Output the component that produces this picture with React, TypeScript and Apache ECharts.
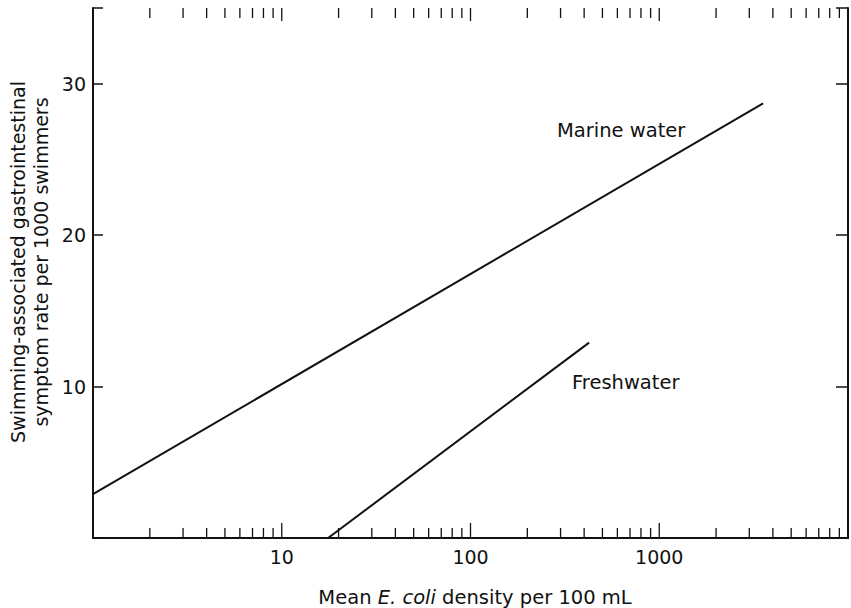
import React, { useEffect, useRef } from "react";
import * as echarts from "echarts";

// Data
const marineX = [1, 3550];
const marineY = [2.9, 28.7];
const freshX = [17.6, 425];
const freshY = [0, 12.9];
const majorTicks = [10, 100, 1000];
const minorTicks = [
  2, 3, 4, 5, 6, 7, 8, 9,
  20, 30, 40, 50, 60, 70, 80, 90,
  200, 300, 400, 500, 600, 700, 800, 900,
  2000, 3000, 4000, 5000, 6000, 7000, 8000, 9000,
];
const xLabels = [10, 100, 1000];
const yLabels = [10, 20, 30];

const FONT = "DejaVu Sans";

export default function App() {
  const ref = useRef<HTMLDivElement>(null);
  useEffect(() => {
    if (!ref.current) return;
    const chart = echarts.init(ref.current, null, { renderer: "svg" });
    const tickData = [
      ...majorTicks.map((v) => [v, 0, 1]),
      ...minorTicks.map((v) => [v, 0, 0]),
    ];
    chart.setOption({
      animation: false,
      backgroundColor: "#ffffff",
      grid: { left: 93, right: 1, top: 8, bottom: 70 },
      xAxis: [
        {
          type: "log",
          logBase: 10,
          min: 1,
          max: 10000,
          position: "bottom",
          axisLine: { lineStyle: { color: "#111", width: 2 } },
          axisTick: { show: false },
          splitLine: { show: false },
          axisLabel: {
            color: "#111",
            fontFamily: FONT,
            fontSize: 19,
            margin: 9,
            formatter: (v: number) => (xLabels.includes(Math.round(v)) ? String(Math.round(v)) : ""),
          },
        },
        {
          type: "log",
          logBase: 10,
          min: 1,
          max: 10000,
          position: "top",
          axisLine: { lineStyle: { color: "#111", width: 2 } },
          axisTick: { show: false },
          splitLine: { show: false },
          axisLabel: { show: false },
        },
      ],
      yAxis: [
        {
          type: "value",
          min: 0,
          max: 35,
          interval: 10,
          position: "left",
          axisLine: { show: true, lineStyle: { color: "#111", width: 2 } },
          axisTick: { show: true, inside: true, length: 10, lineStyle: { color: "#111", width: 1.5 } },
          splitLine: { show: false },
          axisLabel: {
            color: "#111",
            fontFamily: FONT,
            fontSize: 19,
            margin: 7,
            formatter: (v: number) => (yLabels.includes(v) ? String(v) : ""),
          },
        },
        {
          type: "value",
          min: 0,
          max: 35,
          interval: 10,
          position: "right",
          axisLine: { show: true, lineStyle: { color: "#111", width: 2 } },
          axisTick: { show: true, inside: true, length: 12, lineStyle: { color: "#111", width: 1.5 } },
          splitLine: { show: false },
          axisLabel: { show: false },
        },
      ],
      series: [
        {
          name: "Marine water",
          type: "line",
          data: marineX.map((x, i) => [x, marineY[i]]),
          showSymbol: false,
          lineStyle: { color: "#111", width: 2 },
        },
        {
          name: "Freshwater",
          type: "line",
          data: freshX.map((x, i) => [x, freshY[i]]),
          showSymbol: false,
          lineStyle: { color: "#111", width: 2 },
        },
        {
          type: "custom",
          clip: false,
          silent: true,
          data: tickData,
          encode: { x: 0, y: 1 },
          renderItem: (params: any, api: any) => {
            const v = api.value(0);
            const major = api.value(2) === 1;
            const bottom = api.coord([v, 0]);
            const top = api.coord([v, 35]);
            const lb = major ? 15 : 10;
            const lt = major ? 13 : 10;
            const style = { stroke: "#111", lineWidth: 1.3 };
            return {
              type: "group",
              children: [
                { type: "line", shape: { x1: bottom[0], y1: bottom[1], x2: bottom[0], y2: bottom[1] - lb }, style },
                { type: "line", shape: { x1: top[0], y1: top[1], x2: top[0], y2: top[1] + lt }, style },
              ],
            };
          },
        },
      ],
      graphic: [
        {
          type: "text",
          x: 557,
          y: 130,
          style: { text: "Marine water", fontFamily: FONT, fontSize: 19.5, fill: "#111", textVerticalAlign: "middle" },
        },
        {
          type: "text",
          x: 572,
          y: 382,
          style: { text: "Freshwater", fontFamily: FONT, fontSize: 19.5, fill: "#111", textVerticalAlign: "middle" },
        },
        {
          type: "text",
          x: 475,
          y: 597,
          style: {
            text: "{n|Mean }{i|E. coli}{n| density per 100 mL}",
            textAlign: "center",
            textVerticalAlign: "middle",
            rich: {
              n: { fontFamily: FONT, fontSize: 19.5, fill: "#111" },
              i: { fontFamily: FONT, fontSize: 19.5, fontStyle: "italic", fill: "#111" },
            },
          },
        },
        {
          type: "text",
          x: 29,
          y: 262,
          rotation: Math.PI / 2,
          style: {
            text: "Swimming-associated gastrointestinal\nsymptom rate per 1000 swimmers",
            fontFamily: FONT,
            fontSize: 19,
            lineHeight: 23,
            fill: "#111",
            textAlign: "center",
            textVerticalAlign: "middle",
          },
        },
      ],
    });
    return () => chart.dispose();
  }, []);
  return <div ref={ref} style={{ width: 851, height: 608, position: "absolute", left: 0, top: 0 }} />;
}
